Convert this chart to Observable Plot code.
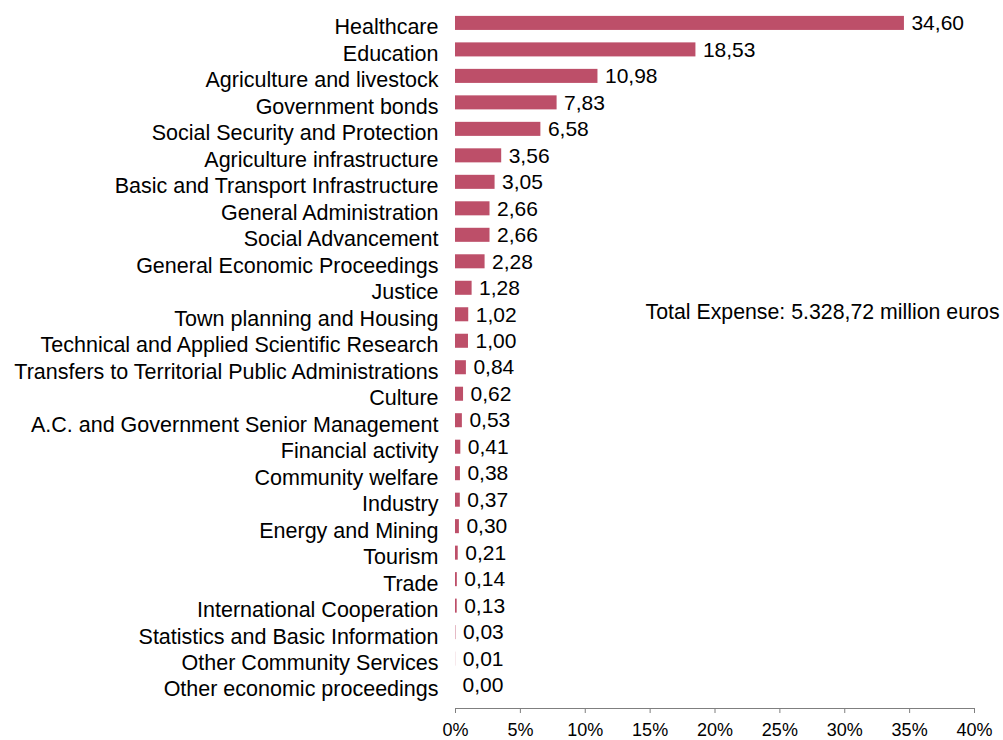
<!DOCTYPE html>
<html><head><meta charset="utf-8">
<script src="https://cdn.jsdelivr.net/npm/d3@7"></script>
<script src="https://cdn.jsdelivr.net/npm/@observablehq/plot@0.6"></script>
<style>body{margin:0;background:#fff}</style>
</head><body><div id="chart"></div>
<script>
const categories = [
  "Healthcare",
  "Education",
  "Agriculture and livestock",
  "Government bonds",
  "Social Security and Protection",
  "Agriculture infrastructure",
  "Basic and Transport Infrastructure",
  "General Administration",
  "Social Advancement",
  "General Economic Proceedings",
  "Justice",
  "Town planning and Housing",
  "Technical and Applied Scientific Research",
  "Transfers to Territorial Public Administrations",
  "Culture",
  "A.C. and Government Senior Management",
  "Financial activity",
  "Community welfare",
  "Industry",
  "Energy and Mining",
  "Tourism",
  "Trade",
  "International Cooperation",
  "Statistics and Basic Information",
  "Other Community Services",
  "Other economic proceedings"
];
const values = [34.60, 18.53, 10.98, 7.83, 6.58, 3.56, 3.05, 2.66, 2.66, 2.28, 1.28, 1.02, 1.00, 0.84, 0.62, 0.53, 0.41, 0.38, 0.37, 0.30, 0.21, 0.14, 0.13, 0.03, 0.01, 0.00];
const xTicks = [0, 5, 10, 15, 20, 25, 30, 35, 40];
const noteText = ["Total Expense: 5.328,72 million euros"];
const noteX = [14.65];
const noteCategory = ["Town planning and Housing"];

const data = categories.map((c, i) => ({category: c, value: values[i]}));
const note = noteText.map((t, i) => ({text: t, x: noteX[i], category: noteCategory[i]}));
const fmt = v => v.toFixed(2).replace(".", ",");

const chart = Plot.plot({
  width: 1003,
  height: 740,
  marginLeft: 455,
  marginRight: 29,
  marginTop: 0,
  marginBottom: 32,
  style: {fontFamily: "'Liberation Sans', Arial, sans-serif", fontSize: "20px", color: "#000", background: "#fff", overflow: "visible"},
  x: {domain: [0, 40], label: null},
  y: {domain: categories, paddingInner: 0.47, paddingOuter: 0.6, round: false, label: null},
  marks: [
    Plot.barX(data, {x: "value", y: "category", fill: "#bd4f69"}),
    Plot.text(data, {x: "value", y: "category", text: d => fmt(d.value), textAnchor: "start", dx: 7, fontSize: 21, fill: "#000"}),
    Plot.axisY({tickSize: 0, tickPadding: 17, fontSize: 21.5, dy: 4, fill: "#000", label: null}),
    Plot.axisX({ticks: xTicks, tickFormat: d => d + "%", tickSize: 5, tickPadding: 10, fontSize: 18, stroke: "#7f7f7f", fill: "#000", label: null}),
    Plot.frame({anchor: "bottom", stroke: "#7f7f7f"}),
    Plot.text(note, {x: "x", y: "category", text: "text", textAnchor: "start", dy: -3, fontSize: 21.3, fill: "#000"})
  ]
});
document.getElementById("chart").append(chart);
</script>
</body></html>
